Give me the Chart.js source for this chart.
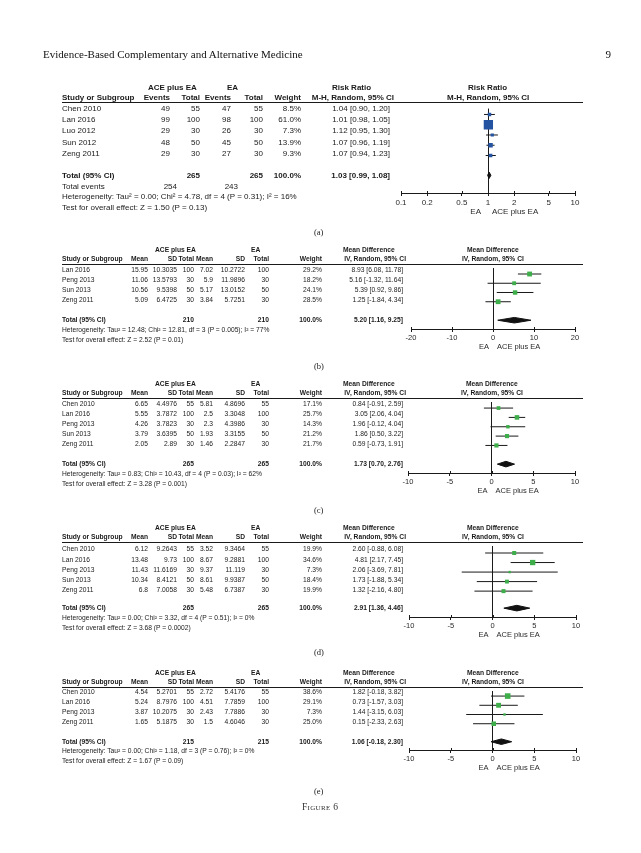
<!DOCTYPE html>
<html>
<head>
<meta charset="utf-8">
<title>Figure 6</title>
<script src="https://cdn.jsdelivr.net/npm/chart.js@4.4.1/dist/chart.umd.min.js"></script>
<style>
  html, body { margin: 0; padding: 0; background: #fff; }
  body { position: relative; width: 641px; height: 853px; overflow: hidden;
         font-family: "Liberation Sans", Arial, Helvetica, sans-serif; color: #1a1a1a; }
  #text { position: absolute; left: 0; top: 0; width: 641px; height: 853px; filter: grayscale(1); }
  .t { position: absolute; white-space: nowrap; line-height: 1.2; }
  .b { font-weight: bold; }
  .serif { font-family: "Liberation Serif", "DejaVu Serif", serif; }
  .rule { position: absolute; height: 1px; background: #1a1a1a; }
  canvas { position: absolute; }
</style>
</head>
<body>
<div id="text"></div>
<script>
// ---------- (a) risk ratio ----------
const aStudy = ['Chen 2010', 'Lan 2016', 'Luo 2012', 'Sun 2012', 'Zeng 2011'];
const aEventsAce = [49, 99, 29, 48, 29];
const aTotalAce = [55, 100, 30, 50, 30];
const aEventsEa = [47, 98, 26, 45, 27];
const aTotalEa = [55, 100, 30, 50, 30];
const aWeight = [8.5, 61.0, 7.3, 13.9, 9.3];
const aEst = [1.04, 1.01, 1.12, 1.07, 1.07];
const aLow = [0.90, 0.98, 0.95, 0.96, 0.94];
const aHigh = [1.20, 1.05, 1.30, 1.19, 1.23];
const aPooled = [1.03, 0.99, 1.08];
const aTotals = [265, 265];
const aTotalEvents = [254, 243];
const aHet = 'Heterogeneity: Tau² = 0.00; Chi² = 4.78, df = 4 (P = 0.31); I² = 16%';
const aTest = 'Test for overall effect: Z = 1.50 (P = 0.13)';
const aTicks = [0.1, 0.2, 0.5, 1, 2, 5, 10];

// ---------- (b) ----------
const bStudy = ['Lan 2016', 'Peng 2013', 'Sun 2013', 'Zeng 2011'];
const bMeanAce = [15.95, 11.06, 10.56, 5.09];
const bSdAce = [10.3035, 13.5793, 9.5398, 6.4725];
const bNAce = [100, 30, 50, 30];
const bMeanEa = [7.02, 5.9, 5.17, 3.84];
const bSdEa = [10.2722, 11.9896, 13.0152, 5.7251];
const bNEa = [100, 30, 50, 30];
const bWeight = [29.2, 18.2, 24.1, 28.5];
const bEst = [8.93, 5.16, 5.39, 1.25];
const bLow = [6.08, -1.32, 0.92, -1.84];
const bHigh = [11.78, 11.64, 9.86, 4.34];
const bPooled = [5.20, 1.16, 9.25];
const bTotals = [210, 210];
const bHet = 'Heterogeneity: Tau² = 12.48; Chi² = 12.81, df = 3 (P = 0.005); I² = 77%';
const bTest = 'Test for overall effect: Z = 2.52 (P = 0.01)';
const bTicks = [-20, -10, 0, 10, 20];

// ---------- (c) ----------
const cStudy = ['Chen 2010', 'Lan 2016', 'Peng 2013', 'Sun 2013', 'Zeng 2011'];
const cMeanAce = [6.65, 5.55, 4.26, 3.79, 2.05];
const cSdAce = [4.4976, 3.7872, 3.7823, 3.6395, 2.89];
const cNAce = [55, 100, 30, 50, 30];
const cMeanEa = [5.81, 2.5, 2.3, 1.93, 1.46];
const cSdEa = [4.8696, 3.3048, 4.3986, 3.3155, 2.2847];
const cNEa = [55, 100, 30, 50, 30];
const cWeight = [17.1, 25.7, 14.3, 21.2, 21.7];
const cEst = [0.84, 3.05, 1.96, 1.86, 0.59];
const cLow = [-0.91, 2.06, -0.12, 0.50, -0.73];
const cHigh = [2.59, 4.04, 4.04, 3.22, 1.91];
const cPooled = [1.73, 0.70, 2.76];
const cTotals = [265, 265];
const cHet = 'Heterogeneity: Tau² = 0.83; Chi² = 10.43, df = 4 (P = 0.03); I² = 62%';
const cTest = 'Test for overall effect: Z = 3.28 (P = 0.001)';
const cTicks = [-10, -5, 0, 5, 10];

// ---------- (d) ----------
const dStudy = ['Chen 2010', 'Lan 2016', 'Peng 2013', 'Sun 2013', 'Zeng 2011'];
const dMeanAce = [6.12, 13.48, 11.43, 10.34, 6.8];
const dSdAce = [9.2643, 9.73, 11.6169, 8.4121, 7.0058];
const dNAce = [55, 100, 30, 50, 30];
const dMeanEa = [3.52, 8.67, 9.37, 8.61, 5.48];
const dSdEa = [9.3464, 9.2881, 11.119, 9.9387, 6.7387];
const dNEa = [55, 100, 30, 50, 30];
const dWeight = [19.9, 34.6, 7.3, 18.4, 19.9];
const dEst = [2.60, 4.81, 2.06, 1.73, 1.32];
const dLow = [-0.88, 2.17, -3.69, -1.88, -2.16];
const dHigh = [6.08, 7.45, 7.81, 5.34, 4.80];
const dPooled = [2.91, 1.36, 4.46];
const dTotals = [265, 265];
const dHet = 'Heterogeneity: Tau² = 0.00; Chi² = 3.32, df = 4 (P = 0.51); I² = 0%';
const dTest = 'Test for overall effect: Z = 3.68 (P = 0.0002)';
const dTicks = [-10, -5, 0, 5, 10];

// ---------- (e) ----------
const eStudy = ['Chen 2010', 'Lan 2016', 'Peng 2013', 'Zeng 2011'];
const eMeanAce = [4.54, 5.24, 3.87, 1.65];
const eSdAce = [5.2701, 8.7976, 10.2075, 5.1875];
const eNAce = [55, 100, 30, 30];
const eMeanEa = [2.72, 4.51, 2.43, 1.5];
const eSdEa = [5.4176, 7.7859, 7.7886, 4.6046];
const eNEa = [55, 100, 30, 30];
const eWeight = [38.6, 29.1, 7.3, 25.0];
const eEst = [1.82, 0.73, 1.44, 0.15];
const eLow = [-0.18, -1.57, -3.15, -2.33];
const eHigh = [3.82, 3.03, 6.03, 2.63];
const ePooled = [1.06, -0.18, 2.30];
const eTotals = [215, 215];
const eHet = 'Heterogeneity: Tau² = 0.00; Chi² = 1.18, df = 3 (P = 0.76); I² = 0%';
const eTest = 'Test for overall effect: Z = 1.67 (P = 0.09)';
const eTicks = [-10, -5, 0, 5, 10];

const PAGE_W = 641;
const FONT = '"Liberation Sans", Arial, Helvetica, sans-serif';
const layer = document.getElementById('text');

function put(text, x, y, size, align, opt) {
  opt = opt || {};
  const d = document.createElement('div');
  d.className = 't' + (opt.bold ? ' b' : '') + (opt.serif ? ' serif' : '');
  d.textContent = text;
  d.style.fontSize = size + 'px';
  d.style.top = (y - size * 0.6) + 'px';
  if (opt.color) d.style.color = opt.color;
  if (opt.css) Object.assign(d.style, opt.css);
  layer.appendChild(d);
  if (align === 'r') d.style.right = (PAGE_W - x) + 'px';
  else if (align === 'c') d.style.left = Math.round(x - d.getBoundingClientRect().width / 2) + 'px';
  else d.style.left = x + 'px';
  return d;
}

function rule(x1, x2, y) {
  const r = document.createElement('div');
  r.className = 'rule';
  r.style.left = x1 + 'px';
  r.style.width = (x2 - x1) + 'px';
  r.style.top = y + 'px';
  layer.appendChild(r);
}

function ci(est, lo, hi) {
  return est.toFixed(2) + ' [' + lo.toFixed(2) + ', ' + hi.toFixed(2) + ']';
}

// "EA  |  ACE plus EA" under the axis, plus the short tick stubs above the axis line
const sideLabels = {
  id: 'sideLabels',
  afterDraw(chart, args, o) {
    const ctx = chart.ctx;
    const sx = chart.scales.x;
    const x0 = sx.getPixelForValue(o.at);
    const bottom = chart.chartArea.bottom;
    ctx.save();
    ctx.strokeStyle = '#1a1a1a';
    ctx.lineWidth = 1;
    ctx.beginPath();
    sx.ticks.forEach(t => {
      const px = Math.round(sx.getPixelForValue(t.value)) + 0.5;
      ctx.moveTo(px, bottom - 2);
      ctx.lineTo(px, bottom);
    });
    ctx.stroke();
    ctx.font = o.size + 'px ' + FONT;
    ctx.fillStyle = '#2a2a2a';
    ctx.textBaseline = 'middle';
    ctx.textAlign = 'right';
    ctx.fillText('EA', x0 - o.gapL, bottom + o.dy);
    ctx.textAlign = 'left';
    ctx.fillText('ACE plus EA', x0 + o.gapR, bottom + o.dy);
    ctx.restore();
  }
};

// one forest plot: CI whiskers, weighted squares, pooled diamond
function forest(P) {
  const padL = 14, padR = 14;
  const tickLen = 3;
  const axisH = tickLen + P.tickPad + P.tickSize * 1.2;
  const inner = P.axisY - P.lineY;
  const ch = Math.ceil(inner + axisH + 13);
  const padB = ch - inner - axisH;
  const cw = P.plotR - P.plotL + padL + padR;

  const cv = document.createElement('canvas');
  cv.width = cw; cv.height = ch;
  cv.style.left = (P.plotL - padL) + 'px';
  cv.style.top = P.lineY + 'px';
  cv.style.width = cw + 'px';
  cv.style.height = ch + 'px';
  document.body.appendChild(cv);

  const toRow = y => (y - P.row0) / P.pitch;
  const tRow = toRow(P.totalY);
  const dh = P.diamondH / P.pitch;

  const datasets = [{
    label: 'studies',
    data: P.est.map((v, i) => ({ x: v, y: i })),
    pointStyle: 'rect',
    pointRadius: P.weight.map(w => P.k * Math.sqrt(w) / Math.SQRT2),
    pointBackgroundColor: P.color,
    pointBorderWidth: 0,
    showLine: false,
    order: 0
  }];
  P.est.forEach((v, i) => {
    datasets.push({
      data: [{ x: P.low[i], y: i }, { x: P.high[i], y: i }],
      showLine: true, borderColor: '#1a1a1a', borderWidth: 1,
      pointRadius: 0, order: 1
    });
  });
  const [pe, pl, ph] = P.pooled;
  datasets.push({
    data: [{ x: pl, y: tRow }, { x: pe, y: tRow - dh }, { x: ph, y: tRow },
           { x: pe, y: tRow + dh }, { x: pl, y: tRow }],
    showLine: true, borderColor: '#111', borderWidth: 1,
    backgroundColor: '#111', fill: 'shape', pointRadius: 0, tension: 0, order: 1
  });

  const chart = new Chart(cv.getContext('2d'), {
    type: 'scatter',
    data: { datasets },
    options: {
      responsive: false,
      maintainAspectRatio: false,
      animation: false,
      events: [],
      layout: { padding: { left: padL, right: padR, top: 0, bottom: padB } },
      plugins: {
        legend: { display: false },
        tooltip: { enabled: false },
        sideLabels: { at: P.nullValue, dy: P.labelDy, size: P.tickSize, gapL: P.gapL, gapR: P.gapR }
      },
      scales: {
        x: {
          type: P.log ? 'logarithmic' : 'linear',
          min: P.ticks[0],
          max: P.ticks[P.ticks.length - 1],
          afterBuildTicks: s => { s.ticks = P.ticks.map(v => ({ value: v })); },
          ticks: {
            autoSkip: false, maxRotation: 0, padding: P.tickPad,
            color: '#2a2a2a', font: { family: FONT, size: P.tickSize },
            callback: v => String(v)
          },
          grid: {
            drawOnChartArea: true,
            drawTicks: true,
            tickLength: tickLen,
            tickColor: '#1a1a1a',
            lineWidth: 1,
            color: c => (c.tick && c.tick.value === P.nullValue) ? '#1a1a1a' : 'rgba(0,0,0,0)'
          },
          border: { display: true, color: '#1a1a1a', width: 1 }
        },
        y: {
          type: 'linear', display: false, reverse: true,
          min: toRow(P.lineY), max: toRow(P.axisY)
        }
      }
    },
    plugins: [sideLabels]
  });
  return (P.plotL - padL) + chart.scales.x.getPixelForValue(P.nullValue);
}

// ---------- page header ----------
put('Evidence-Based Complementary and Alternative Medicine', 43, 55, 11, 'l', { serif: true, color: '#111' });
put('9', 611, 55, 11, 'r', { serif: true, color: '#111' });

// ---------- (a) ----------
(function () {
  const fs = 8, L = { head1: 87.5, head2: 98, line: 102, row0: 108.5, pitch: 11.3, total: 175.5 };
  const col = { ev1: 170, n1: 200, ev2: 231, n2: 263, w: 301, ci: 390, ciHead: 394 };
  const nullX = forest({
    est: aEst, low: aLow, high: aHigh, weight: aWeight, pooled: aPooled,
    log: true, ticks: aTicks, nullValue: 1, plotL: 401, plotR: 575,
    lineY: L.line, row0: L.row0, pitch: L.pitch, totalY: L.total, axisY: 195,
    k: 1.19, color: '#2453a1', diamondH: 3.5, tickSize: 8, tickPad: 2,
    labelDy: 19, gapL: 7, gapR: 4
  });
  put('ACE plus EA', 172, L.head1, fs, 'c', { bold: true });
  put('EA', 233, L.head1, fs, 'c', { bold: true });
  put('Risk Ratio', 352, L.head1, fs, 'c', { bold: true });
  put('Risk Ratio', nullX, L.head1, fs, 'c', { bold: true });
  put('Study or Subgroup', 62, L.head2, fs, 'l', { bold: true });
  put('Events', col.ev1, L.head2, fs, 'r', { bold: true });
  put('Total', col.n1, L.head2, fs, 'r', { bold: true });
  put('Events', col.ev2, L.head2, fs, 'r', { bold: true });
  put('Total', col.n2, L.head2, fs, 'r', { bold: true });
  put('Weight', col.w, L.head2, fs, 'r', { bold: true });
  put('M-H, Random, 95% CI', col.ciHead, L.head2, fs, 'r', { bold: true });
  put('M-H, Random, 95% CI', nullX, L.head2, fs, 'c', { bold: true });
  rule(62, 583, L.line);
  aStudy.forEach((s, i) => {
    const y = L.row0 + i * L.pitch;
    put(s, 62, y, fs, 'l');
    put(String(aEventsAce[i]), col.ev1, y, fs, 'r');
    put(String(aTotalAce[i]), col.n1, y, fs, 'r');
    put(String(aEventsEa[i]), col.ev2, y, fs, 'r');
    put(String(aTotalEa[i]), col.n2, y, fs, 'r');
    put(aWeight[i].toFixed(1) + '%', col.w, y, fs, 'r');
    put(ci(aEst[i], aLow[i], aHigh[i]), col.ci, y, fs, 'r');
  });
  put('Total (95% CI)', 62, L.total, fs, 'l', { bold: true });
  put(String(aTotals[0]), col.n1, L.total, fs, 'r', { bold: true });
  put(String(aTotals[1]), col.n2, L.total, fs, 'r', { bold: true });
  put('100.0%', col.w, L.total, fs, 'r', { bold: true });
  put(ci(aPooled[0], aPooled[1], aPooled[2]), col.ci, L.total, fs, 'r', { bold: true });
  put('Total events', 62, 186.5, fs, 'l');
  put(String(aTotalEvents[0]), 177, 186.5, fs, 'r');
  put(String(aTotalEvents[1]), 238, 186.5, fs, 'r');
  put(aHet, 62, 197, fs, 'l');
  put(aTest, 62, 207.5, fs, 'l');
  put('(a)', 319, 232, 8.5, 'c', { serif: true });
})();

// ---------- (b)-(e): mean difference panels ----------
function mdPanel(D, L) {
  const fs = 6.7;
  const col = { m1: 148, s1: 177, n1: 194, m2: 213, s2: 245, n2: 269, w: 322, ci: 403, ciHead: 406 };
  const nullX = forest({
    est: D.est, low: D.low, high: D.high, weight: D.weight, pooled: D.pooled,
    log: false, ticks: D.ticks, nullValue: 0, plotL: L.plotL, plotR: L.plotR,
    lineY: L.line, row0: L.row0, pitch: L.pitch, totalY: L.total, axisY: L.axis,
    k: 0.9, color: '#3dae49', diamondH: 3, tickSize: 7.5, tickPad: 1,
    labelDy: 18, gapL: 4, gapR: 4
  });
  put('ACE plus EA', 175, L.head1, fs, 'c', { bold: true });
  put('EA', 256, L.head1, fs, 'c', { bold: true });
  put('Mean Difference', 369, L.head1, fs, 'c', { bold: true });
  put('Mean Difference', nullX, L.head1, fs, 'c', { bold: true });
  put('Study or Subgroup', 62, L.head2, fs, 'l', { bold: true });
  put('Mean', col.m1, L.head2, fs, 'r', { bold: true });
  put('SD', col.s1, L.head2, fs, 'r', { bold: true });
  put('Total', col.n1, L.head2, fs, 'r', { bold: true });
  put('Mean', col.m2, L.head2, fs, 'r', { bold: true });
  put('SD', col.s2, L.head2, fs, 'r', { bold: true });
  put('Total', col.n2, L.head2, fs, 'r', { bold: true });
  put('Weight', col.w, L.head2, fs, 'r', { bold: true });
  put('IV, Random, 95% CI', col.ciHead, L.head2, fs, 'r', { bold: true });
  put('IV, Random, 95% CI', nullX, L.head2, fs, 'c', { bold: true });
  rule(62, 583, L.line);
  D.study.forEach((s, i) => {
    const y = L.row0 + i * L.pitch;
    put(s, 62, y, fs, 'l');
    put(String(D.m1[i]), col.m1, y, fs, 'r');
    put(String(D.s1[i]), col.s1, y, fs, 'r');
    put(String(D.n1[i]), col.n1, y, fs, 'r');
    put(String(D.m2[i]), col.m2, y, fs, 'r');
    put(String(D.s2[i]), col.s2, y, fs, 'r');
    put(String(D.n2[i]), col.n2, y, fs, 'r');
    put(D.weight[i].toFixed(1) + '%', col.w, y, fs, 'r');
    put(ci(D.est[i], D.low[i], D.high[i]), col.ci, y, fs, 'r');
  });
  put('Total (95% CI)', 62, L.total, fs, 'l', { bold: true });
  put(String(D.totals[0]), col.n1, L.total, fs, 'r', { bold: true });
  put(String(D.totals[1]), col.n2, L.total, fs, 'r', { bold: true });
  put('100.0%', col.w, L.total, fs, 'r', { bold: true });
  put(ci(D.pooled[0], D.pooled[1], D.pooled[2]), col.ci, L.total, fs, 'r', { bold: true });
  put(D.het, 62, L.het, fs, 'l');
  put(D.test, 62, L.het + 10, fs, 'l');
  put(L.tag, 319, L.cap, 8.5, 'c', { serif: true });
}

mdPanel(
  { study: bStudy, m1: bMeanAce, s1: bSdAce, n1: bNAce, m2: bMeanEa, s2: bSdEa, n2: bNEa,
    weight: bWeight, est: bEst, low: bLow, high: bHigh, pooled: bPooled, totals: bTotals,
    het: bHet, test: bTest, ticks: bTicks },
  { head1: 250, head2: 259.5, line: 264, row0: 270.5, pitch: 10, total: 320.5,
    axis: 330, het: 330.5, cap: 366.5, tag: '(b)', plotL: 411, plotR: 575 }
);
mdPanel(
  { study: cStudy, m1: cMeanAce, s1: cSdAce, n1: cNAce, m2: cMeanEa, s2: cSdEa, n2: cNEa,
    weight: cWeight, est: cEst, low: cLow, high: cHigh, pooled: cPooled, totals: cTotals,
    het: cHet, test: cTest, ticks: cTicks },
  { head1: 384.5, head2: 393.5, line: 398, row0: 404.5, pitch: 10, total: 464.5,
    axis: 474, het: 474.5, cap: 510.5, tag: '(c)', plotL: 408, plotR: 575 }
);
mdPanel(
  { study: dStudy, m1: dMeanAce, s1: dSdAce, n1: dNAce, m2: dMeanEa, s2: dSdEa, n2: dNEa,
    weight: dWeight, est: dEst, low: dLow, high: dHigh, pooled: dPooled, totals: dTotals,
    het: dHet, test: dTest, ticks: dTicks },
  { head1: 528, head2: 537.5, line: 542, row0: 549.5, pitch: 10.2, total: 608.5,
    axis: 618, het: 618.5, cap: 652, tag: '(d)', plotL: 409, plotR: 576 }
);
mdPanel(
  { study: eStudy, m1: eMeanAce, s1: eSdAce, n1: eNAce, m2: eMeanEa, s2: eSdEa, n2: eNEa,
    weight: eWeight, est: eEst, low: eLow, high: eHigh, pooled: ePooled, totals: eTotals,
    het: eHet, test: eTest, ticks: eTicks },
  { head1: 673, head2: 682.5, line: 687, row0: 692.5, pitch: 10, total: 742,
    axis: 751, het: 751.5, cap: 791, tag: '(e)', plotL: 409, plotR: 576 }
);

put('Figure 6', 320, 808, 9.5, 'c', { serif: true, color: '#333', css: { fontVariant: 'small-caps', letterSpacing: '0.3px' } });
</script>
</body>
</html>
